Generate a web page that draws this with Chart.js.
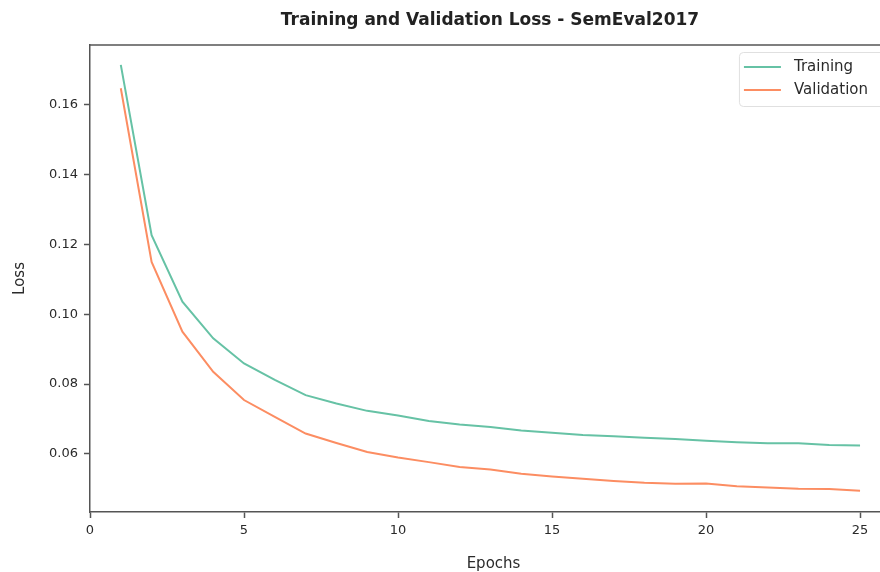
<!DOCTYPE html>
<html>
<head>
<meta charset="utf-8">
<script src="https://cdn.jsdelivr.net/npm/chart.js@4"></script>
<style>
  html, body { margin: 0; padding: 0; background: #fff; overflow: hidden; }
  #wrap { width: 920px; height: 572px; }
</style>
</head>
<body>
<div id="wrap"><canvas id="lossChart" width="920" height="572"></canvas></div>
<script>
// --------------------------- DATA ---------------------------
const epochs = [1, 2, 3, 4, 5, 6, 7, 8, 9, 10, 11, 12, 13, 14, 15, 16, 17, 18, 19, 20, 21, 22, 23, 24, 25];
const trainLoss = [0.1715, 0.1227, 0.1036, 0.0931, 0.0859, 0.0812, 0.0768, 0.0744, 0.0723, 0.0710,
                   0.0694, 0.0684, 0.0677, 0.0667, 0.0660, 0.0654, 0.0650, 0.0646, 0.0642, 0.0637,
                   0.0633, 0.0630, 0.0630, 0.0625, 0.0624];
const valLoss = [0.1648, 0.1150, 0.0950, 0.0835, 0.0754, 0.0706, 0.0658, 0.0631, 0.0605, 0.0589,
                 0.0576, 0.0562, 0.0555, 0.0543, 0.0535, 0.0528, 0.0522, 0.0517, 0.0514, 0.0515,
                 0.0507, 0.0503, 0.0500, 0.0499, 0.0494];
const xTicks = [0, 5, 10, 15, 20, 25];
const yTicks = [0.06, 0.08, 0.10, 0.12, 0.14, 0.16];

const FONT = "'DejaVu Sans', sans-serif";
const GREEN = '#66c2a5';
const ORANGE = '#fc8d62';
const SPINE = '#555555';
const TEXT = '#2a2a2a';

// pair epochs with values for the linear x axis
const toPoints = (vals) => vals.map((v, i) => ({ x: epochs[i], y: v }));

// --------------------------- PLUGINS ---------------------------

// title, top spine and the boxed legend in the upper right
const decorations = {
    id: 'decorations',
    afterDraw(chart) {
        const { ctx, chartArea } = chart;
        ctx.save();

        // top spine
        ctx.strokeStyle = SPINE;
        ctx.lineWidth = 1.5;
        ctx.beginPath();
        ctx.moveTo(chartArea.left - 0.75, chartArea.top);
        ctx.lineTo(chartArea.right, chartArea.top);
        ctx.stroke();

        // title
        ctx.fillStyle = '#222';
        ctx.font = `bold 17px ${FONT}`;
        ctx.textAlign = 'center';
        ctx.textBaseline = 'middle';
        ctx.fillText('Training and Validation Loss - SemEval2017', 490, 21);

        // legend
        ctx.font = `15px ${FONT}`;
        const sets = chart.data.datasets;
        const textW = Math.max(...sets.map(d => ctx.measureText(d.label).width));
        const boxRight = chartArea.right - 7;
        const boxW = 55 + textW + 22;
        const boxX = boxRight - boxW;
        const boxY = 52;
        const rowH = 23;
        const boxH = sets.length * rowH + 8;

        ctx.fillStyle = 'rgba(255,255,255,0.8)';
        ctx.strokeStyle = '#e0e0e0';
        ctx.lineWidth = 1;
        ctx.beginPath();
        ctx.roundRect(boxX + 0.5, boxY + 0.5, boxW, boxH, 4);
        ctx.fill();
        ctx.stroke();

        ctx.textAlign = 'left';
        sets.forEach((d, i) => {
            const y = boxY + 15 + i * rowH;
            ctx.strokeStyle = d.borderColor;
            ctx.lineWidth = 2;
            ctx.beginPath();
            ctx.moveTo(boxX + 5, y);
            ctx.lineTo(boxX + 42, y);
            ctx.stroke();
            ctx.fillStyle = TEXT;
            ctx.fillText(d.label, boxX + 55, y);
        });

        ctx.restore();
    }
};

// --------------------------- CHART ---------------------------
const ctx = document.querySelector('#lossChart');
const lossChart = new Chart(ctx, {
    type: 'line',
    data: {
        datasets: [{
            label: 'Training',
            data: toPoints(trainLoss),
            borderColor: GREEN,
            backgroundColor: GREEN,
            borderWidth: 2,
            pointRadius: 0,
            tension: 0
        }, {
            label: 'Validation',
            data: toPoints(valLoss),
            borderColor: ORANGE,
            backgroundColor: ORANGE,
            borderWidth: 2,
            pointRadius: 0,
            tension: 0
        }]
    },
    options: {
        responsive: false,
        animation: false,
        layout: { padding: { top: 45, right: 23, left: 0, bottom: 0 } },
        plugins: {
            legend: { display: false },
            title: { display: false },
            tooltip: { enabled: false }
        },
        scales: {
            x: {
                type: 'linear',
                min: 0,
                max: 26.2,
                afterFit: (scale) => { scale.height = 60; },
                afterBuildTicks: (scale) => { scale.ticks = xTicks.map(v => ({ value: v })); },
                ticks: {
                    font: { family: FONT, size: 13 },
                    color: TEXT,
                    padding: 5,
                    maxRotation: 0,
                    callback: (v) => String(v)
                },
                grid: {
                    drawOnChartArea: false,
                    drawTicks: true,
                    tickLength: 6,
                    tickColor: SPINE,
                    tickWidth: 1.5
                },
                border: { color: SPINE, width: 1.5 },
                title: {
                    display: true,
                    text: 'Epochs',
                    font: { family: FONT, size: 15 },
                    color: TEXT,
                    padding: { top: 0, bottom: -1 }
                }
            },
            y: {
                min: 0.0433,
                max: 0.1772,
                afterFit: (scale) => { scale.width = 90; },
                afterBuildTicks: (scale) => { scale.ticks = yTicks.map(v => ({ value: v })); },
                ticks: {
                    font: { family: FONT, size: 13 },
                    color: TEXT,
                    padding: 6,
                    callback: (v) => v.toFixed(2)
                },
                grid: {
                    drawOnChartArea: false,
                    drawTicks: true,
                    tickLength: 6,
                    tickColor: SPINE,
                    tickWidth: 1.5
                },
                border: { color: SPINE, width: 1.5 },
                title: {
                    display: true,
                    text: 'Loss',
                    font: { family: FONT, size: 15 },
                    color: TEXT,
                    padding: { top: 11, bottom: 0 }
                }
            }
        }
    },
    plugins: [decorations]
});
</script>
</body>
</html>
